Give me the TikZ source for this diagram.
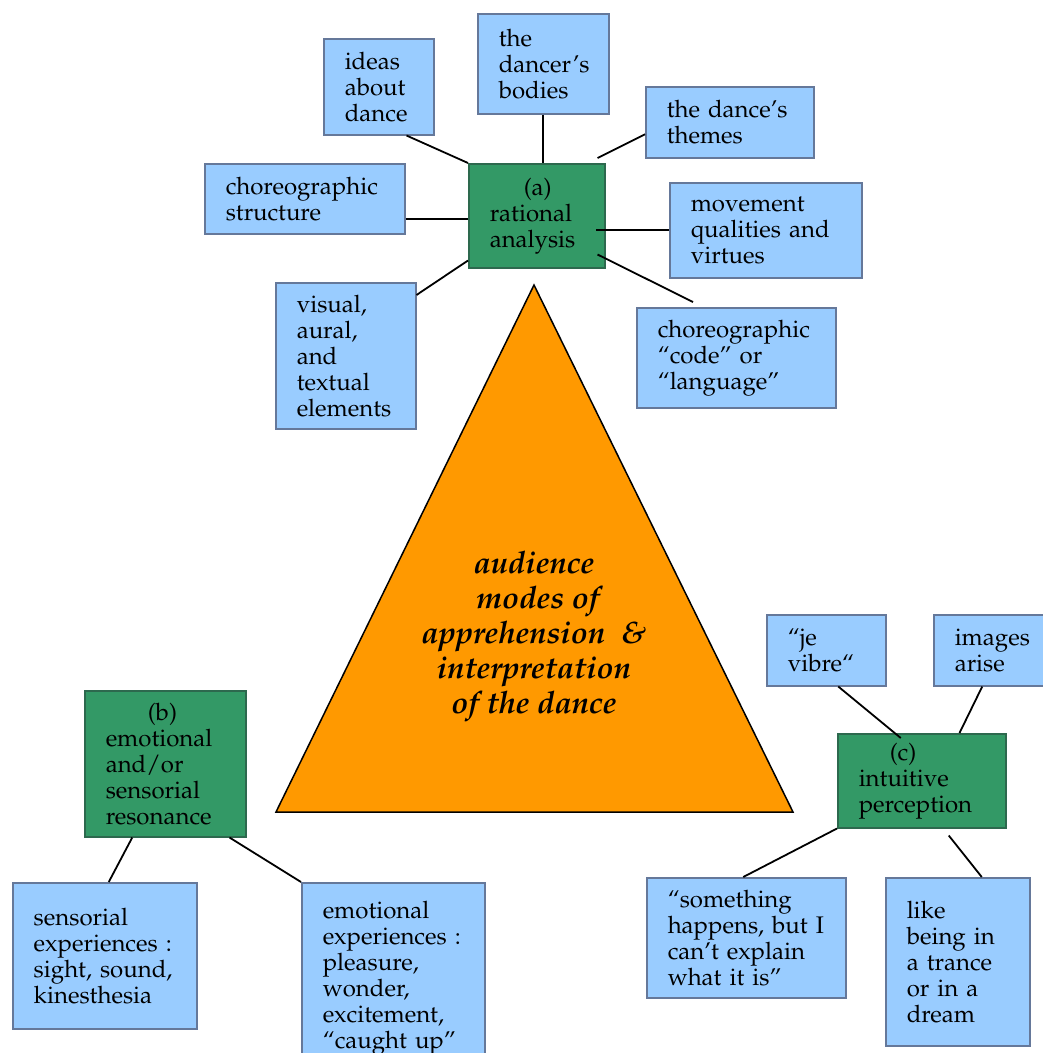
\documentclass[tikz,border=0pt]{standalone}
\usepackage[T1]{fontenc}
\usepackage{mathpazo}
\definecolor{leafblue}{RGB}{153,204,255}
\definecolor{leafedge}{RGB}{101,120,154}
\definecolor{modegreen}{RGB}{51,153,102}
\definecolor{modeedge}{RGB}{45,105,78}
\definecolor{apexorange}{RGB}{255,153,0}
\newcommand{\modetag}[2]{\hspace*{#1}#2\\}
\begin{document}
\begin{tikzpicture}[x=1pt, y=-1pt,
    leaf/.style={draw=leafedge, fill=leafblue, line width=1.5pt, anchor=north west,
      align=left, inner xsep=21pt, inner ysep=0pt, font=\fontsize{24}{26}\selectfont},
    mode/.style={leaf, draw=modeedge, fill=modegreen},
    link/.style={line width=1.8pt}]
  \useasboundingbox (0,0) rectangle (1043,1053);

  % central triangle
  \draw[line width=1.5pt, fill=apexorange, line join=miter] (534,285) -- (276,812) -- (793,812) -- cycle;
  \node[align=center, font=\fontsize{31}{35}\selectfont\bfseries\itshape] (modes) at (534,637)
    {audience\\ \ modes of\\ apprehension~~\&\\ interpretation\\ of the dance};

  % (a) rational analysis
  \node[mode, text width=94pt, minimum height=104pt] (rational) at (468,163)
    {\modetag{34pt}{(a)}rational\\ analysis};
  \node[leaf, text width=68pt, minimum height=96pt] (ideas) at (323,38) {ideas\\ about\\ dance};
  \node[leaf, text width=89pt, minimum height=100pt] (bodies) at (477,13) {the\\ dancer's\\ bodies};
  \node[leaf, text width=126pt, minimum height=71pt] (themes) at (645,86) {the~dance's\\ themes};
  \node[leaf, text width=158pt, minimum height=70pt] (structure) at (204,163) {choreographic\\ structure};
  \node[leaf, text width=150pt, minimum height=95pt] (movement) at (669,182) {movement\\ qualities~and\\ virtues};
  \node[leaf, text width=98pt, minimum height=146pt] (visual) at (275,282) {visual,\\ aural,\\ and\\ textual\\ elements};
  \node[leaf, text width=157pt, minimum height=100pt] (code) at (636,307) {choreographic\\ ``code''~or\\ ``language''};

  \draw[link] ([xshift=-28pt]ideas.south east) -- (rational.north west);
  \draw[link] (bodies.south) -- (bodies.south |- rational.north);
  \draw[link] ([shift={(-8pt,5pt)}]rational.north east) -- ([yshift=-12pt]themes.west);
  \draw[link] ([yshift=-20pt]structure.east) -- ([yshift=-20pt]structure.east -| rational.west);
  \draw[link] (movement.west) -- ++(-73,0);
  \draw[link] ([shift={(-8pt,14pt)}]rational.south east) -- ([shift={(57pt,5pt)}]code.north west);
  \draw[link] ([yshift=-13pt]visual.north east) -- ([yshift=8pt]rational.south west);

  % (b) emotional and/or sensorial resonance
  \node[mode, text width=119pt, minimum height=146pt] (resonance) at (84,690)
    {\modetag{42pt}{(b)}emotional\\ and/or\\ sensorial\\ resonance};
  \node[leaf, text width=142pt, minimum height=146pt] (sensorial) at (12,882)
    {sensorial\\ experiences~:\\ sight,~sound,\\ kinesthesia\\[16pt]};
  \node[leaf, text width=141pt, minimum height=190pt] (feelings) at (301,882)
    {emotional\\ experiences~:\\ pleasure,\\ wonder,\\ excitement,\\ ``caught~up''};

  \draw[link] ([xshift=-33pt]resonance.south) -- ([xshift=4pt]sensorial.north);
  \draw[link] ([xshift=-17pt]resonance.south east) -- (feelings.north west);

  % (c) intuitive perception
  \node[mode, text width=126pt, minimum height=94pt] (intuitive) at (837,733)
    {\modetag{31pt}{(c)}intuitive\\ perception};
  \node[leaf, text width=77pt, minimum height=71pt] (vibre) at (766,614) {``je\\ vibre``};
  \node[leaf, text width=73pt, minimum height=71pt] (images) at (933,614) {images\\ arise};
  \node[leaf, text width=157pt, minimum height=120pt] (something) at (646,877)
    {``something\\ happens,~but~I\\ can't~explain\\ what~it~is''};
  \node[leaf, text width=102pt, minimum height=168pt] (trance) at (885,877)
    {like\\ being~in\\ a~trance\\ or~in~a\\ dream};

  \draw[link] ([xshift=12pt]vibre.south) -- ([shift={(-21pt,-5pt)}]intuitive.north);
  \draw[link] ([xshift=-9pt]images.south) -- ([xshift=-47pt]intuitive.north east);
  \draw[link] (intuitive.south west) -- ([xshift=-3pt]something.north);
  \draw[link] ([shift={(27pt,-7pt)}]intuitive.south) -- ([xshift=24pt]trance.north);
\end{tikzpicture}
\end{document}
